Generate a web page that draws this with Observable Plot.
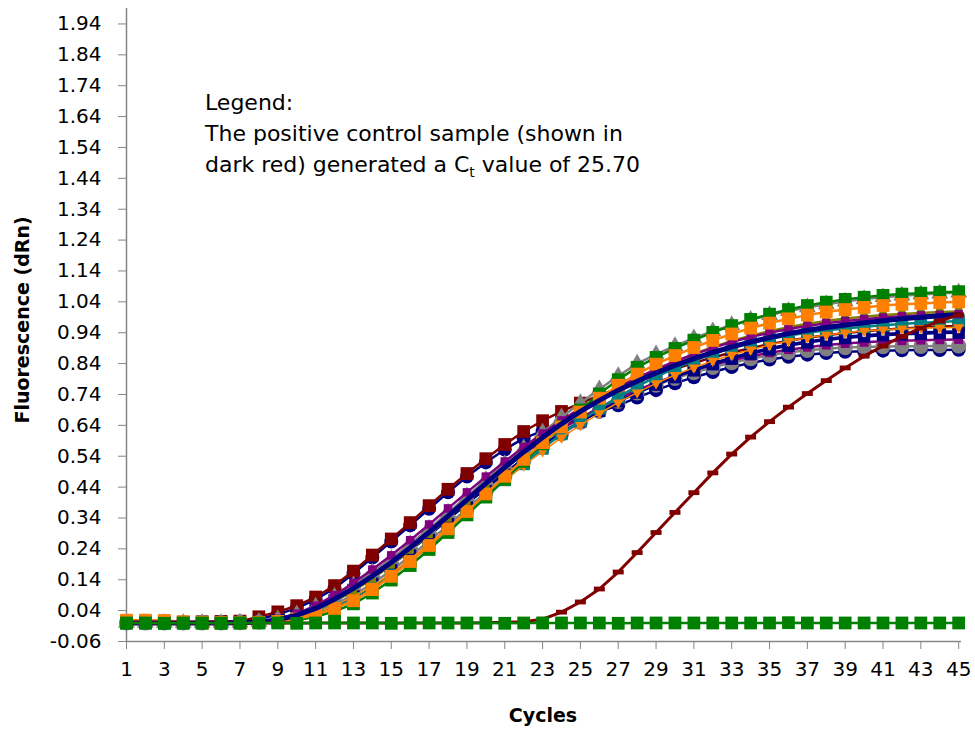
<!DOCTYPE html>
<html><head><meta charset="utf-8">
<script src="https://cdn.jsdelivr.net/npm/d3@7"></script>
<script src="https://cdn.jsdelivr.net/npm/@observablehq/plot@0.6"></script>
<style>body{margin:0;background:#fff}#chart{width:975px;height:731px}</style>
</head><body><div id="chart"></div>
<script>
const cycles = [1,2,3,4,5,6,7,8,9,10,11,12,13,14,15,16,17,18,19,20,21,22,23,24,25,26,27,28,29,30,31,32,33,34,35,36,37,38,39,40,41,42,43,44,45];
const xTicks = [1,3,5,7,9,11,13,15,17,19,21,23,25,27,29,31,33,35,37,39,41,43,45];
const yTicks = [-0.06,0.04,0.14,0.24,0.34,0.44,0.54,0.64,0.74,0.84,0.94,1.04,1.14,1.24,1.34,1.44,1.54,1.64,1.74,1.84,1.94];

const darkRedSq = [0.004,0.004,0.003,0.003,0.004,0.005,0.006,0.02,0.036,0.056,0.084,0.121,0.168,0.22,0.272,0.325,0.38,0.433,0.484,0.532,0.578,0.62,0.655,0.685,0.712,0.737,0.76,0.782,0.803,0.823,0.842,0.86,0.876,0.89,0.903,0.914,0.924,0.932,0.939,0.945,0.95,0.954,0.957,0.96,0.962];
const navyCircle = [0,0,0,0,0.001,0.002,0.004,0.012,0.028,0.048,0.076,0.112,0.16,0.212,0.264,0.316,0.37,0.423,0.474,0.52,0.562,0.598,0.622,0.642,0.663,0.684,0.705,0.73,0.754,0.776,0.796,0.813,0.829,0.842,0.853,0.862,0.869,0.874,0.878,0.88,0.882,0.883,0.884,0.884,0.885];
const grayCircle = [0,0,0,0,0,0,0.001,0.003,0.008,0.02,0.037,0.06,0.09,0.128,0.17,0.216,0.265,0.317,0.37,0.423,0.475,0.524,0.57,0.612,0.65,0.687,0.718,0.745,0.77,0.792,0.811,0.828,0.843,0.856,0.867,0.876,0.883,0.888,0.892,0.894,0.895,0.896,0.896,0.897,0.897];
const purpleLo = [0,0,0,0,0,0,0.001,0.004,0.012,0.028,0.052,0.084,0.122,0.163,0.207,0.254,0.303,0.354,0.405,0.455,0.502,0.547,0.589,0.628,0.664,0.697,0.727,0.754,0.778,0.8,0.819,0.836,0.851,0.864,0.875,0.885,0.893,0.9,0.905,0.909,0.912,0.914,0.916,0.917,0.918];
const navySq = [0,0,0,0,0,0,0.001,0.003,0.009,0.023,0.045,0.073,0.107,0.146,0.189,0.236,0.285,0.336,0.387,0.437,0.486,0.532,0.576,0.616,0.653,0.687,0.718,0.746,0.772,0.796,0.818,0.838,0.856,0.872,0.886,0.898,0.908,0.916,0.923,0.928,0.932,0.935,0.937,0.939,0.94];
const navyOpen = [0,0,0,0,0,0,0.001,0.003,0.009,0.022,0.044,0.072,0.106,0.145,0.188,0.235,0.284,0.335,0.386,0.436,0.485,0.531,0.575,0.615,0.652,0.686,0.717,0.745,0.772,0.797,0.82,0.841,0.859,0.876,0.89,0.902,0.912,0.92,0.927,0.932,0.936,0.939,0.941,0.943,0.944];
const teal = [0,0,0,0,0,0,0,0.002,0.005,0.014,0.03,0.052,0.08,0.114,0.154,0.2,0.25,0.302,0.355,0.408,0.463,0.515,0.565,0.612,0.655,0.695,0.732,0.766,0.797,0.825,0.85,0.872,0.891,0.907,0.92,0.931,0.94,0.948,0.954,0.959,0.964,0.968,0.972,0.975,0.978];
const orangeTri = [0,0,0,0,0,0,0,0.002,0.006,0.016,0.033,0.056,0.086,0.12,0.161,0.207,0.257,0.309,0.361,0.412,0.462,0.51,0.556,0.6,0.641,0.679,0.714,0.746,0.776,0.803,0.827,0.849,0.868,0.885,0.9,0.913,0.924,0.933,0.94,0.946,0.95,0.953,0.955,0.956,0.957];
const olive = [0,0,0,0,0,0,0.001,0.003,0.009,0.022,0.042,0.07,0.104,0.144,0.188,0.236,0.287,0.34,0.394,0.447,0.499,0.548,0.595,0.639,0.681,0.72,0.756,0.789,0.819,0.846,0.871,0.893,0.913,0.93,0.945,0.958,0.969,0.978,0.986,0.992,0.997,1.001,1.004,1.007,1.009];
const purpleHi = [0,0,0,0,0,0,0.001,0.004,0.013,0.03,0.056,0.09,0.13,0.173,0.219,0.268,0.319,0.371,0.423,0.474,0.523,0.57,0.614,0.656,0.695,0.731,0.764,0.794,0.822,0.847,0.87,0.891,0.91,0.926,0.94,0.952,0.962,0.971,0.978,0.984,0.989,0.993,0.996,0.998,1.0];
const grayTri = [0,0,0,0,0,0,0.001,0.004,0.012,0.028,0.053,0.085,0.122,0.163,0.207,0.255,0.305,0.357,0.41,0.463,0.515,0.566,0.617,0.666,0.712,0.757,0.8,0.84,0.87,0.897,0.922,0.945,0.965,0.982,0.997,1.01,1.022,1.032,1.041,1.049,1.055,1.06,1.064,1.067,1.07];
const greenSq = [0,0,0,0,0,0,0,0.001,0.003,0.009,0.02,0.038,0.062,0.097,0.139,0.186,0.238,0.293,0.35,0.408,0.466,0.523,0.58,0.636,0.69,0.742,0.788,0.828,0.86,0.889,0.916,0.941,0.963,0.983,1.0,1.015,1.028,1.039,1.048,1.055,1.061,1.065,1.068,1.071,1.073];
const orangeSq = [0.009,0.009,0.008,0.004,0.002,0.001,0.001,0.002,0.005,0.013,0.027,0.047,0.072,0.108,0.151,0.199,0.251,0.305,0.361,0.418,0.475,0.53,0.584,0.635,0.683,0.728,0.77,0.806,0.838,0.866,0.892,0.915,0.936,0.955,0.971,0.985,0.997,1.007,1.015,1.022,1.028,1.032,1.035,1.038,1.04];
const navyLine = [0,0,0,0,0,0,0.001,0.003,0.01,0.025,0.047,0.077,0.112,0.152,0.196,0.244,0.294,0.346,0.399,0.452,0.504,0.554,0.601,0.645,0.685,0.721,0.754,0.783,0.81,0.834,0.856,0.876,0.894,0.91,0.924,0.937,0.948,0.957,0.965,0.972,0.979,0.985,0.99,0.995,0.999];
const positiveControl = [0,0,0,0,0,0,0,0,0,0,0,0,0,0,0,0,0,0,0,0.001,0.002,0.004,0.012,0.035,0.068,0.11,0.165,0.228,0.293,0.358,0.422,0.486,0.547,0.602,0.652,0.699,0.743,0.785,0.826,0.864,0.897,0.928,0.955,0.978,0.998];
const negative = [0,0,-0.001,0,0,-0.001,0,0,0,-0.001,0,0,0,0,-0.001,0,0,0,0,0,-0.001,0,0,0,0,0,-0.001,0,0,0,0,0,0,0,0,0.001,0,0,0,0,0,0,0,0,0];

const triDown = {draw(ctx, size) {
  const s = Math.sqrt(size * 4 / Math.sqrt(3)), h = s * Math.sqrt(3) / 2;
  ctx.moveTo(-s / 2, -h / 3); ctx.lineTo(s / 2, -h / 3); ctx.lineTo(0, 2 * h / 3); ctx.closePath();
}};
const dash = {draw(ctx, size) { ctx.rect(-5.5, -2.4, 11, 4.8); }};

const series = [
  {values: navyCircle, color: "#000080", symbol: "circle", r: 7, lw: 2.5},
  {values: darkRedSq, color: "#800000", symbol: "square", r: 7.2, lw: 2.5},
  {values: grayCircle, color: "#808080", symbol: "circle", r: 7.6, lw: 2.5},
  {values: purpleLo, color: "#800080", symbol: "square", r: 5, lw: 2.5},
  {values: navySq, color: "#000080", symbol: "square", r: 7, lw: 2.5},
  {values: navyOpen, color: "#000080", symbol: "square", r: 2.4, lw: 2.5, fill: "#ffffff"},
  {values: teal, color: "#008080", symbol: "square", r: 7, lw: 2.5},
  {values: orangeTri, color: "#ff8000", symbol: triDown, r: 4, lw: 1.5},
  {values: olive, color: "#808000", symbol: "square", r: 4.2, lw: 2.5},
  {values: grayTri, color: "#808080", symbol: "triangle", r: 6.3, lw: 2.5},
  {values: purpleHi, color: "#800080", symbol: "square", r: 4.8, lw: 2.5},
  {values: greenSq, color: "#008000", symbol: "square", r: 7.2, lw: 2.5},
  {values: orangeSq, color: "#ff8000", symbol: "square", r: 7.2, lw: 2.5},
  {values: navyLine, color: "#000080", symbol: null, r: 0, lw: 5},
  {values: positiveControl, color: "#800000", symbol: dash, r: 4, lw: 3},
  {values: negative, color: "#008000", symbol: "square", r: 7.2, lw: 2.5}
];

const marks = [];
series.forEach(s => {
  const rows = s.values.map((v, i) => ({cycle: cycles[i], value: v}));
  marks.push(Plot.line(rows, {x: "cycle", y: "value", stroke: s.color, strokeWidth: s.lw}));
  if (s.symbol) marks.push(Plot.dot(rows, {x: "cycle", y: "value", symbol: s.symbol, r: s.r,
    fill: s.fill || s.color, stroke: s.fill ? s.color : "none", strokeWidth: 1}));
});

const chart = Plot.plot({
  width: 975, height: 731,
  marginLeft: 126, marginRight: 14, marginTop: 8, marginBottom: 90,
  x: {domain: [1, 45.15]},
  y: {domain: [-0.06, 1.99]},
  style: {fontFamily: "DejaVu Sans", fontSize: "20px", color: "#000", background: "#fff", overflow: "visible"},
  marks: [
    Plot.ruleX([1], {stroke: "#868686", strokeWidth: 1.5}),
    Plot.ruleY([-0.06], {stroke: "#868686", strokeWidth: 1.5}),
    Plot.axisY({ticks: yTicks, tickSize: 8, tickPadding: 17, tickFormat: d => d.toFixed(2), stroke: "#868686", fill: "#000", label: null}),
    Plot.axisX({ticks: xTicks, tickSize: 8, tickPadding: 12, tickFormat: d => String(d), stroke: "#868686", fill: "#000", label: null}),
    ...marks
  ]
});
document.getElementById("chart").appendChild(chart);

const svg = d3.select(chart);
const legend = svg.append("g").attr("font-family", "DejaVu Sans").attr("font-size", 22).attr("fill", "#000").attr("text-anchor", "start");
legend.append("text").attr("x", 205).attr("y", 110).text("Legend:");
legend.append("text").attr("x", 205).attr("y", 141).text("The positive control sample (shown in");
const t3 = legend.append("text").attr("x", 205).attr("y", 172);
t3.append("tspan").text("dark red) generated a C");
t3.append("tspan").attr("font-size", 14).attr("dy", 5).text("t");
t3.append("tspan").attr("dy", -5).text(" value of 25.70");

svg.append("text").attr("transform", "translate(29,320) rotate(-90)").attr("text-anchor", "middle")
  .attr("font-family", "DejaVu Sans").attr("font-weight", "bold").attr("font-size", 19).attr("fill", "#000")
  .text("Fluorescence (dRn)");
svg.append("text").attr("x", 543).attr("y", 722).attr("text-anchor", "middle")
  .attr("font-family", "DejaVu Sans").attr("font-weight", "bold").attr("font-size", 19).attr("fill", "#000")
  .text("Cycles");
</script></body></html>
